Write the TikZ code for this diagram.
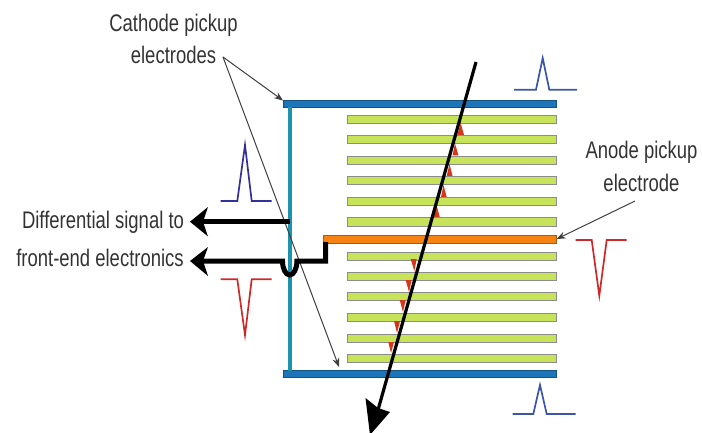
\documentclass[tikz,border=0pt]{standalone}
\usepackage{fontspec}
\usepackage{graphicx}
\setmainfont{Liberation Sans}
\newcommand{\condtext}[1]{\scalebox{0.77}[1]{#1}}
\tikzset{
  x=1pt,y=-1pt,
  lbl/.style={inner sep=0pt,text=black!80,font=\fontsize{24}{24}\selectfont},
  bar/.style={draw=#1!70!black,fill=#1,rectangle,inner sep=0pt,line width=0.6pt,anchor=north west},
  strip/.style={draw=black!45,fill=stripgreen,rectangle,inner sep=0pt,line width=1pt,anchor=north west,minimum width=209pt,minimum height=8pt},
  thin arrow/.style={draw=black!75,line width=1pt,-{Stealth[length=9pt,width=7pt]}},
  signal/.style={draw=black,line width=5pt},
  pulseb/.style={draw=pulseblue,line width=1.7pt},
  pulsen/.style={draw=pulsenavy,line width=1.7pt},
  pulser/.style={draw=pulsered,line width=1.7pt},
  hit/.style={fill=hitred,draw=none},
}
\definecolor{stripgreen}{HTML}{C6E35A}
\definecolor{cathodeblue}{HTML}{1B75B8}
\definecolor{anodeorange}{HTML}{F58212}
\definecolor{tealline}{HTML}{1E93AE}
\definecolor{pulseblue}{HTML}{3B55A8}
\definecolor{pulsenavy}{HTML}{34309A}
\definecolor{pulsered}{HTML}{CC2A28}
\definecolor{hitred}{HTML}{D8361A}
\usetikzlibrary{arrows.meta}
\begin{document}
\begin{tikzpicture}
\useasboundingbox (0,0) rectangle (702,433);
% labels
\node[lbl] (cath1) at (173.5,25) {\condtext{Cathode pickup}};
\node[lbl] (cath2) at (173.5,55) {\condtext{electrodes}};
\node[lbl] (an1) at (641.5,152) {\condtext{Anode pickup}};
\node[lbl] (an2) at (641.5,183) {\condtext{electrode}};
\node[lbl] (diff1) at (103,222) {\condtext{Differential signal to}};
\node[lbl] (diff2) at (100,258) {\condtext{front-end electronics}};
% electrodes
\node[bar=cathodeblue,minimum width=273pt,minimum height=6.5pt] (ctop) at (283,100.5) {};
\node[bar=cathodeblue,minimum width=273pt,minimum height=6.5pt] (cbot) at (283,370.2) {};
\node[draw=none,fill=tealline,inner sep=0pt,minimum width=3.5pt,minimum height=264pt,anchor=north] (vert) at (290,106.5) {};
\node[bar=anodeorange,minimum width=233pt,minimum height=7.5pt] (anode) at (323,235) {};
% strips
\foreach \n/\y in {a/115,b/135,c/156,d/176.5,e/197,f/217.5,g/251.5,h/271.5,i/292,j/312.7,k/333.5,l/354}
  \node[strip] (s\n) at (347,\y) {};
% hit triangles
\foreach \l/\r/\a/\t/\b in {457.3/464/460.7/123/135, 452.5/458.5/455/143.5/155.5, 446.7/452.5/449.5/164/176, 441/446.7/443.5/185/197, 433.3/439.7/436.5/205/217}
  \fill[hit] (\l,\b) -- (\a,\t) -- (\r,\b) -- cycle;
\foreach \l/\r/\a/\t/\b in {410.7/416.7/414.3/259/271, 405.7/411.7/409/280/292, 399.7/405.7/403/300/312, 394/400/397/321/333, 388.3/394/391/342/353}
  \fill[hit] (\l,\t) -- (\a,\b) -- (\r,\t) -- cycle;
% thin arrows
\coordinate (fork) at (223,57);
\coordinate (anstart) at (635,201);
\draw[thin arrow] (fork) -- (ctop.north west);
\draw[thin arrow] (fork) -- (339,367);
\draw[thin arrow] (anstart) -- (anode.east);
% signal lines
\coordinate (h1) at (203,221.7);
\coordinate (h2) at (203,261);
\draw[signal] (vert.center |- h1) -- (h1);
\fill (190,221.7) -- (208,207) -- (203,221.7) -- (208,236.5) -- cycle;
\draw[signal,line join=miter] (h2) -- (282.5,261) arc[start angle=180,end angle=0,x radius=7.2,y radius=14] -- (325.5,261) -- (325.5,242);
\fill (190,261) -- (208,247) -- (203,261) -- (208,276) -- cycle;
% pulses
\draw[pulseb] (514,89.7) -- (536,89.7) -- (542.7,58) -- (549.3,89.7) -- (577,89.7);
\draw[pulseb] (512.7,414) -- (533.3,414) -- (540,385) -- (546.7,414) -- (575.7,414);
\draw[pulsen] (220.7,201) -- (237.3,201) -- (245,145) -- (251.7,201) -- (271.7,201);
\draw[pulser] (220.7,279.3) -- (237.3,279.3) -- (245,335) -- (251.7,279.3) -- (271.7,279.3);
\draw[pulser] (575.7,240) -- (591.7,240) -- (599.3,295.7) -- (606.7,240) -- (626.7,240);
% particle track
\coordinate (trstart) at (476,62);
\coordinate (trend) at (378,410);
\draw[black,line width=3.2pt] (trstart) -- (trend);
\fill (370,435) -- (365.5,398) -- (378,408) -- (390,412) -- cycle;
\end{tikzpicture}
\end{document}
